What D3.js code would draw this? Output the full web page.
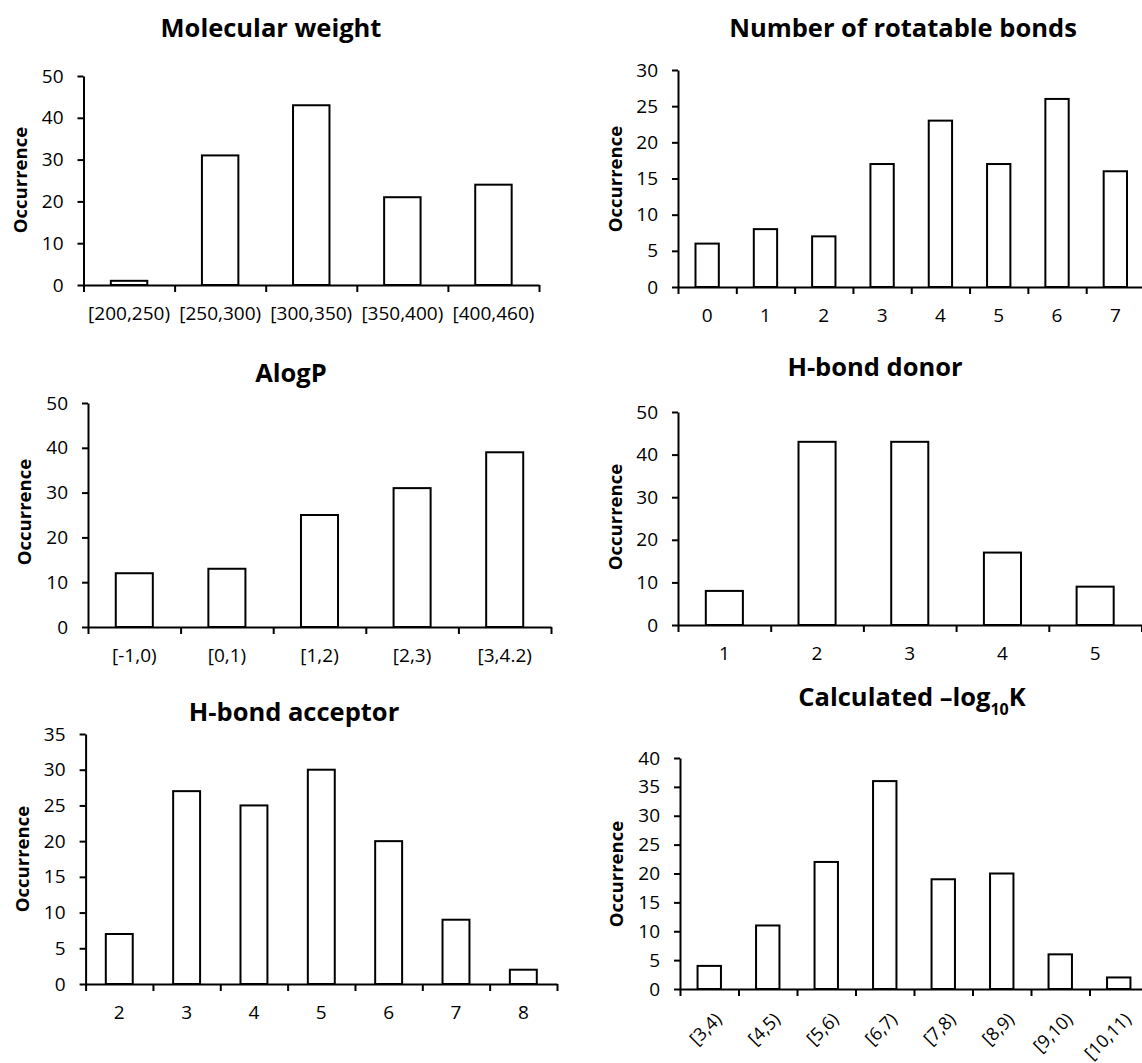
<!DOCTYPE html>
<html>
<head>
<meta charset="utf-8">
<script src="https://cdn.jsdelivr.net/npm/d3@7"></script>
<style>
  html, body { margin: 0; padding: 0; background: #fff; }
  svg { display: block; font-family: "Open Sans", sans-serif; }
</style>
</head>
<body>
<svg id="chart" width="1142" height="1063"></svg>
<script>
// ---------- data ----------
const mwCategories = ["[200,250)", "[250,300)", "[300,350)", "[350,400)", "[400,460)"];
const mwValues = [1, 31, 43, 21, 24];
const mwTicks = [0, 10, 20, 30, 40, 50];

const rotCategories = ["0", "1", "2", "3", "4", "5", "6", "7"];
const rotValues = [6, 8, 7, 17, 23, 17, 26, 16];
const rotTicks = [0, 5, 10, 15, 20, 25, 30];

const alogpCategories = ["[-1,0)", "[0,1)", "[1,2)", "[2,3)", "[3,4.2)"];
const alogpValues = [12, 13, 25, 31, 39];
const alogpTicks = [0, 10, 20, 30, 40, 50];

const donorCategories = ["1", "2", "3", "4", "5"];
const donorValues = [8, 43, 43, 17, 9];
const donorTicks = [0, 10, 20, 30, 40, 50];

const acceptorCategories = ["2", "3", "4", "5", "6", "7", "8"];
const acceptorValues = [7, 27, 25, 30, 20, 9, 2];
const acceptorTicks = [0, 5, 10, 15, 20, 25, 30, 35];

const logkCategories = ["[3,4)", "[4,5)", "[5,6)", "[6,7)", "[7,8)", "[8,9)", "[9,10)", "[10,11)"];
const logkValues = [4, 11, 22, 36, 19, 20, 6, 2];
const logkTicks = [0, 5, 10, 15, 20, 25, 30, 35, 40];

// ---------- layout ----------
const panels = [
  { title: ["Molecular weight"], cats: mwCategories, vals: mwValues, ticks: mwTicks,
    x0: 83.5, x1: 539, y0: 285, yTop: 76, tx: 271, ty: 28, lx: 21, ly: 180, rot: false },
  { title: ["Number of rotatable bonds"], cats: rotCategories, vals: rotValues, ticks: rotTicks,
    x0: 678, x1: 1144.5, y0: 287, yTop: 70, tx: 903, ty: 28, lx: 616, ly: 179, rot: false },
  { title: ["AlogP"], cats: alogpCategories, vals: alogpValues, ticks: alogpTicks,
    x0: 88, x1: 551, y0: 627, yTop: 403, tx: 291, ty: 373, lx: 25, ly: 512, rot: false },
  { title: ["H-bond donor"], cats: donorCategories, vals: donorValues, ticks: donorTicks,
    x0: 678, x1: 1141.5, y0: 625, yTop: 412, tx: 875, ty: 367, lx: 616, ly: 517, rot: false },
  { title: ["H-bond acceptor"], cats: acceptorCategories, vals: acceptorValues, ticks: acceptorTicks,
    x0: 85.6, x1: 557, y0: 984, yTop: 734, tx: 294, ty: 712, lx: 23, ly: 859, rot: false },
  { title: ["Calculated \u2013log", "10", "K"], cats: logkCategories, vals: logkValues, ticks: logkTicks,
    x0: 680, x1: 1148, y0: 989, yTop: 758, tx: 912, ty: 697, lx: 617, ly: 874, rot: true }
];

const svg = d3.select("#chart");

panels.forEach(p => {
  const g = svg.append("g");
  const n = p.cats.length;
  const yMax = p.ticks[p.ticks.length - 1];

  const x = d3.scaleBand().domain(p.cats).range([p.x0, p.x1])
    .paddingInner(0.6).paddingOuter(0.3);
  const xb = d3.scaleLinear().domain([0, n]).range([p.x0, p.x1]);
  const y = d3.scaleLinear().domain([0, yMax]).range([p.y0, p.yTop]);

  // bars
  g.selectAll("rect.bar").data(p.vals).join("rect")
    .attr("class", "bar")
    .attr("x", (d, i) => x(p.cats[i]))
    .attr("width", x.bandwidth())
    .attr("y", d => y(d))
    .attr("height", d => y(0) - y(d))
    .attr("fill", "#fff")
    .attr("stroke", "#000")
    .attr("stroke-width", 2);

  // y axis
  const yAxis = g.append("g")
    .attr("transform", `translate(${p.x0},0)`)
    .call(d3.axisLeft(y).tickValues(p.ticks).tickSize(6).tickSizeOuter(0).tickPadding(14));
  yAxis.select(".domain").attr("stroke", "#000").attr("stroke-width", 2);
  yAxis.selectAll(".tick line").attr("stroke", "#000").attr("stroke-width", 2);
  yAxis.selectAll(".tick text").attr("font-size", 19).attr("fill", "#000")
    .attr("font-family", "'Open Sans', sans-serif");

  // x axis (boundary ticks)
  const xAxis = g.append("g")
    .attr("transform", `translate(0,${p.y0})`)
    .call(d3.axisBottom(xb).tickValues(d3.range(n + 1)).tickFormat("").tickSize(7).tickSizeOuter(0));
  xAxis.select(".domain").attr("stroke", "#000").attr("stroke-width", 2);
  xAxis.selectAll(".tick line").attr("stroke", "#000").attr("stroke-width", 2);

  // category labels
  const lab = g.append("g")
    .attr("transform", `translate(0,${p.y0})`)
    .call(d3.axisBottom(x).tickSize(0).tickPadding(p.rot ? 0 : 22));
  lab.select(".domain").remove();
  lab.selectAll(".tick text").attr("font-size", p.rot ? 18 : 19).attr("fill", "#000")
    .attr("font-family", "'Open Sans', sans-serif");
  if (p.rot) {
    lab.selectAll(".tick text")
      .attr("text-anchor", "end")
      .attr("dy", "0.35em")
      .attr("y", 0)
      .attr("transform", "translate(9,27) rotate(-45)");
  }

  // y label
  g.append("text")
    .attr("transform", `translate(${p.lx},${p.ly}) rotate(-90)`)
    .attr("text-anchor", "middle")
    .attr("dy", "0.35em")
    .attr("font-size", 18.5)
    .attr("font-weight", "bold")
    .attr("fill", "#000")
    .text("Occurrence");

  // title
  const t = g.append("text")
    .attr("x", p.tx).attr("y", p.ty)
    .attr("text-anchor", "middle")
    .attr("dy", "0.35em")
    .attr("font-size", 25.5)
    .attr("font-weight", "bold")
    .attr("fill", "#000");
  if (p.title.length === 1) {
    t.text(p.title[0]);
  } else {
    t.append("tspan").text(p.title[0]);
    t.append("tspan").attr("font-size", 16).attr("dy", "0.55em").text(p.title[1]);
    t.append("tspan").attr("dy", "-0.35em").text(p.title[2]);
  }
});
</script>
</body>
</html>
